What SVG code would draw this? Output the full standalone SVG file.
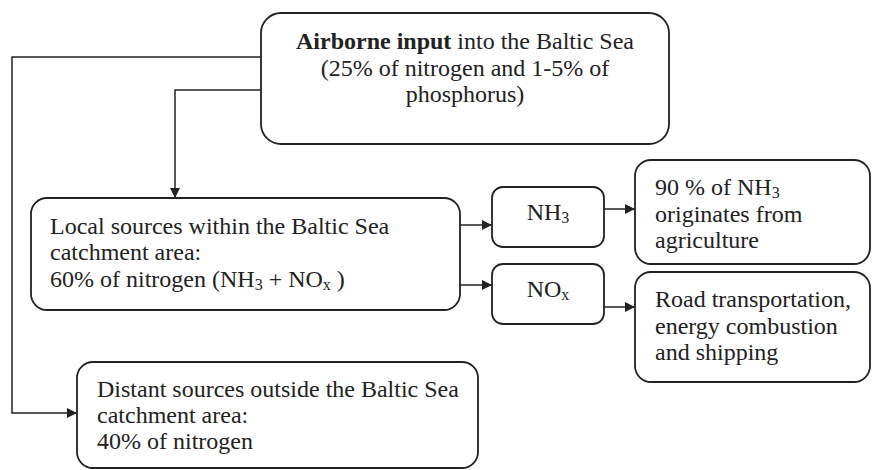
<svg xmlns="http://www.w3.org/2000/svg" width="872" height="470" viewBox="0 0 872 470">
<defs>
<style>
.box{fill:#fff;stroke:#222;stroke-width:1.8}
.con{fill:none;stroke:#222;stroke-width:1.5}
.t{font-family:'Liberation Serif','Times New Roman',Times,serif;font-size:24px;fill:#222}
.sub{font-size:16px}
</style>
<marker id="ah" markerWidth="10" markerHeight="10" refX="10" refY="5" orient="auto" markerUnits="userSpaceOnUse">
<path d="M0,0 L10,5 L0,10 Z" fill="#222"/>
</marker>
</defs>
<g id="connectors">
<path class="con" d="M261,57 H12 V413 H77" marker-end="url(#ah)"/>
<path class="con" d="M261,90 H175 V198" marker-end="url(#ah)"/>
<path class="con" d="M460,225 H492" marker-end="url(#ah)"/>
<path class="con" d="M460,285 H492" marker-end="url(#ah)"/>
<path class="con" d="M604,209 H635" marker-end="url(#ah)"/>
<path class="con" d="M604,307 H635" marker-end="url(#ah)"/>
</g>
<g class="t" font-family="Liberation Serif, Times New Roman, serif">
<g id="airborne">
<rect class="box" x="261" y="13" width="408" height="131" rx="20"/>
<text x="465" y="49" text-anchor="middle"><tspan font-weight="bold">Airborne input</tspan> into the Baltic Sea</text>
<text x="465" y="76" text-anchor="middle">(25% of nitrogen and 1-5% of</text>
<text x="465" y="102" text-anchor="middle">phosphorus)</text>
</g>
<g id="local">
<rect class="box" x="31" y="198" width="429" height="112" rx="16"/>
<text x="50" y="234">Local sources within the Baltic Sea</text>
<text x="50" y="260">catchment area:</text>
<text x="50" y="287">60% of nitrogen (NH<tspan class="sub" dy="3">3</tspan><tspan dy="-3"> + NO</tspan><tspan class="sub" dy="3">x</tspan><tspan dy="-3"> )</tspan></text>
</g>
<g id="distant">
<rect class="box" x="77" y="362" width="401" height="106" rx="16"/>
<text x="97" y="397">Distant sources outside the Baltic Sea</text>
<text x="97" y="423">catchment area:</text>
<text x="97" y="449">40% of nitrogen</text>
</g>
<g id="nh3">
<rect class="box" x="492" y="187" width="112" height="60" rx="11"/>
<text x="548" y="220" text-anchor="middle">NH<tspan class="sub" dy="3">3</tspan></text>
</g>
<g id="nox">
<rect class="box" x="492" y="264" width="112" height="60" rx="11"/>
<text x="548" y="297" text-anchor="middle">NO<tspan class="sub" dy="3">x</tspan></text>
</g>
<g id="agri">
<rect class="box" x="635" y="160" width="235" height="104" rx="16"/>
<text x="655" y="195">90 % of NH<tspan class="sub" dy="3">3</tspan></text>
<text x="655" y="222">originates from</text>
<text x="655" y="248">agriculture</text>
</g>
<g id="road">
<rect class="box" x="635" y="272" width="235" height="110" rx="16"/>
<text x="655" y="307">Road transportation,</text>
<text x="655" y="334">energy combustion</text>
<text x="655" y="360">and shipping</text>
</g>
</g>
</svg>
